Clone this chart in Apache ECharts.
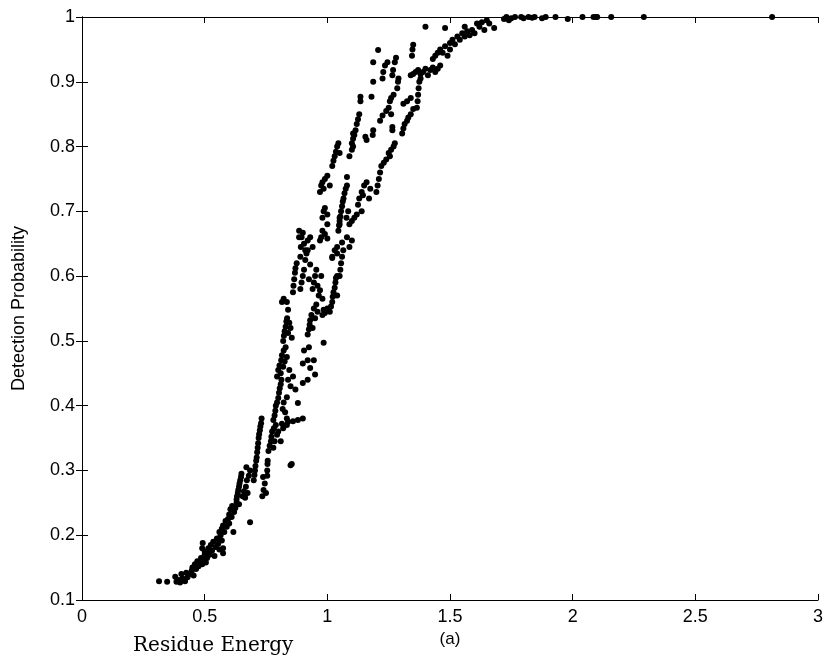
<!DOCTYPE html>
<html>
<head>
<meta charset="utf-8">
<title>Detection Probability vs Residue Energy</title>
<script src="https://cdn.jsdelivr.net/npm/echarts@6/dist/echarts.min.js"></script>
<style>
  html, body { margin: 0; padding: 0; background: #fff; }
  #chart { width: 827px; height: 668px; }
</style>
</head>
<body>
<div id="chart"></div>
<script>
// axis ticks
var xTicks = [0, 0.5, 1, 1.5, 2, 2.5, 3];
var yTicks = [0.1, 0.2, 0.3, 0.4, 0.5, 0.6, 0.7, 0.8, 0.9, 1];

// [residue energy, detection probability], band by band
var tailPts = [
  [0.314,0.129],[0.347,0.128],[0.38,0.136],[0.385,0.128],[0.395,0.131],[0.40,0.127],[0.405,0.14],
  [0.41,0.133],[0.42,0.129],[0.425,0.142],[0.43,0.135],[0.44,0.14],[0.447,0.145],[0.45,0.15],
  [0.455,0.138],[0.46,0.155],[0.465,0.148],[0.47,0.16],[0.475,0.152],[0.48,0.158],[0.485,0.165],
  [0.49,0.155],[0.495,0.162],[0.50,0.17],[0.505,0.158],[0.51,0.165],
  [0.49,0.18],[0.492,0.188],[0.50,0.175],[0.51,0.172],[0.515,0.18],[0.52,0.17],[0.525,0.185],
  [0.53,0.176],[0.535,0.19],[0.54,0.168],[0.545,0.182],[0.55,0.195],[0.555,0.187],[0.56,0.178],
  [0.575,0.18],[0.575,0.172],[0.565,0.2],[0.57,0.192]
];
var risePts = [
  [0.56,0.205],[0.57,0.21],[0.575,0.215],[0.58,0.205],[0.585,0.222],[0.59,0.213],[0.595,0.225],
  [0.60,0.218],[0.60,0.232],[0.605,0.24],[0.61,0.228],[0.612,0.245],[0.617,0.205],[0.62,0.236],
  [0.625,0.242],[0.63,0.25],[0.685,0.22],[0.64,0.248],
  [0.63,0.255],[0.632,0.26],[0.635,0.265],[0.637,0.27],[0.64,0.275],[0.642,0.28],[0.645,0.285],
  [0.648,0.29],[0.65,0.295],[0.655,0.26],[0.66,0.268],[0.665,0.258],[0.668,0.275],[0.672,0.285],
  [0.675,0.265],[0.68,0.292],[0.685,0.3],[0.67,0.305],
  [0.70,0.285],[0.703,0.293],[0.705,0.30],[0.707,0.307],[0.71,0.315],[0.712,0.32],[0.714,0.328],
  [0.716,0.335],[0.718,0.342],[0.72,0.35],[0.722,0.356],[0.725,0.362],[0.727,0.368],[0.73,0.373],
  [0.732,0.38],[0.735,0.26],[0.74,0.27],[0.745,0.28],[0.738,0.29],[0.75,0.265],[0.755,0.292],
  [0.755,0.30],[0.756,0.31],[0.757,0.315],
  [0.76,0.33],[0.765,0.338],[0.77,0.345],[0.772,0.352],[0.775,0.36],[0.78,0.335],[0.782,0.365],
  [0.785,0.345],[0.79,0.37],[0.795,0.355],[0.80,0.36],[0.81,0.345],[0.815,0.372],[0.82,0.365],
  [0.835,0.37],[0.85,0.308],[0.855,0.31],[0.835,0.38],[0.84,0.375],[0.86,0.376],[0.88,0.378],[0.9,0.38],
  [0.78,0.378],[0.785,0.385],[0.788,0.392],[0.79,0.40],[0.795,0.405],[0.80,0.412],[0.803,0.42],
  [0.806,0.427],[0.81,0.433],[0.813,0.44],[0.818,0.395],[0.822,0.405],[0.828,0.39],[0.835,0.413],[0.88,0.404]
];
var midPts = [
  [0.795,0.445],[0.80,0.455],[0.805,0.462],[0.81,0.45],[0.812,0.47],[0.815,0.478],[0.82,0.46],
  [0.822,0.485],[0.826,0.468],[0.83,0.49],[0.835,0.475],[0.84,0.44],[0.845,0.455],[0.85,0.43],
  [0.86,0.445],[0.87,0.425],
  [0.90,0.435],[0.90,0.465],[0.905,0.485],[0.92,0.47],[0.92,0.44],[0.925,0.49],[0.945,0.47],
  [0.95,0.448],[0.93,0.458],[0.985,0.497],
  [0.82,0.50],[0.823,0.508],[0.826,0.515],[0.83,0.522],[0.833,0.53],[0.836,0.535],[0.84,0.512],
  [0.845,0.528],[0.85,0.52],[0.855,0.505],[0.815,0.56],[0.822,0.565],[0.835,0.56],[0.84,0.548],
  [0.92,0.51],[0.925,0.518],[0.928,0.525],[0.93,0.532],[0.935,0.54],[0.94,0.52],[0.945,0.55],
  [0.95,0.535],[0.955,0.556],[0.96,0.545],[0.98,0.54],[0.985,0.548],[0.99,0.543],[1.0,0.55],
  [1.01,0.545],[1.015,0.553],[1.02,0.56],[1.022,0.568],[1.025,0.575],[1.03,0.582],[1.033,0.59],
  [1.035,0.597],[1.04,0.57],[1.04,0.6],
  [0.86,0.575],[0.862,0.585],[0.865,0.595],[0.868,0.605],[0.87,0.612],[0.875,0.62],[0.89,0.58],
  [0.895,0.59],[0.90,0.60],[0.905,0.61],[0.91,0.625],[0.915,0.635],[0.92,0.64],[0.925,0.595],
  [0.93,0.618],[0.94,0.58],[0.945,0.59],[0.95,0.60],[0.955,0.61],[0.96,0.585],[0.965,0.57],
  [0.97,0.578],[0.975,0.6],[0.98,0.565],
  [1.02,0.63],[1.03,0.64],[1.04,0.635],[1.05,0.60],[1.053,0.61],[1.056,0.62],[1.06,0.63],[1.065,0.64],
  [0.885,0.66],[0.885,0.67],[0.89,0.63],[0.892,0.645],[0.895,0.66],[0.90,0.667],[0.905,0.65],
  [0.91,0.64],[0.92,0.655],[0.93,0.66],[0.94,0.645],
  [0.97,0.655],[0.975,0.66],[0.98,0.67],[0.99,0.665],[1.0,0.658],[1.0,0.68],[1.05,0.68],[1.05,0.69]
];
var upperPts = [
  [0.98,0.69],[0.985,0.70],[0.99,0.705],[1.0,0.695],
  [0.97,0.73],[0.975,0.74],[0.98,0.745],[0.985,0.735],[0.99,0.75],[1.0,0.755],[1.01,0.74],
  [1.045,0.67],[1.048,0.678],[1.05,0.685],[1.053,0.692],[1.056,0.70],[1.06,0.708],[1.063,0.715],
  [1.066,0.72],[1.07,0.728],[1.075,0.735],[1.08,0.74],[1.085,0.70],[1.078,0.69],
  [1.02,0.628],[1.04,0.645],[1.06,0.652],[1.08,0.66],[1.1,0.655],[1.09,0.645],
  [1.09,0.68],[1.1,0.685],[1.11,0.69],[1.12,0.695],[1.14,0.70],
  [1.125,0.71],[1.13,0.72],[1.14,0.73],[1.145,0.725],[1.15,0.74],[1.16,0.745],[1.17,0.72],[1.175,0.735],
  [1.02,0.77],[1.025,0.778],[1.03,0.785],[1.035,0.792],[1.04,0.80],[1.045,0.805],[1.05,0.79],
  [1.08,0.753],[1.09,0.785],[1.1,0.795],[1.105,0.80],
  [1.1,0.805],[1.105,0.812],[1.11,0.818],[1.115,0.825],[1.12,0.835],[1.125,0.842],[1.13,0.85],
  [1.135,0.87],[1.135,0.877],[1.105,0.82],[1.155,0.815],[1.16,0.81],[1.185,0.818],[1.187,0.825],
  [1.2,0.73],[1.205,0.74],[1.21,0.75],[1.215,0.76],[1.22,0.77],[1.23,0.775],[1.24,0.78],
  [1.25,0.79],[1.255,0.785],[1.26,0.795],[1.27,0.80],[1.275,0.805],
  [1.215,0.84],[1.225,0.848],[1.24,0.855],[1.25,0.86],[1.26,0.85],[1.265,0.83],[1.265,0.825],
  [1.305,0.82],[1.31,0.828],[1.315,0.835],[1.325,0.84],[1.33,0.845],[1.34,0.85],[1.35,0.858]
];
var nearTopPts = [
  [1.18,0.877],[1.255,0.87],[1.26,0.875],[1.27,0.88],[1.31,0.866],[1.325,0.87],[1.34,0.875],
  [1.365,0.86],[1.368,0.87],[1.37,0.88],[1.372,0.89],[1.375,0.9],[1.38,0.905],
  [1.34,0.91],[1.35,0.912],[1.36,0.915],[1.37,0.918],[1.38,0.912],[1.39,0.915],[1.40,0.92],
  [1.41,0.91],[1.42,0.918],[1.43,0.922],[1.44,0.915],[1.45,0.92],[1.46,0.925],
  [1.187,0.9],[1.225,0.905],[1.228,0.915],[1.265,0.91],[1.268,0.918],[1.285,0.89],[1.288,0.9],[1.29,0.905],
  [1.187,0.93],[1.235,0.925],[1.245,0.93],[1.275,0.93],[1.28,0.937],[1.207,0.949],
  [1.345,0.94],[1.347,0.95],[1.35,0.957],
  [1.43,0.935],[1.44,0.94],[1.45,0.945],[1.46,0.95],[1.47,0.945],[1.48,0.955],[1.49,0.94],[1.5,0.95],
  [1.40,0.985],[1.48,0.983],[1.50,0.96],[1.51,0.965],[1.52,0.958],[1.53,0.97],[1.54,0.965],
  [1.55,0.975],[1.56,0.97],[1.56,0.985],[1.57,0.978],[1.58,0.972],[1.59,0.98],[1.60,0.975],
  [1.61,0.99],[1.62,0.985],[1.63,0.992],[1.64,0.98],[1.65,0.995],[1.66,0.99],[1.68,0.983]
];
var topPts = [
  [1.72,0.997],[1.73,1.0],[1.74,0.995],[1.75,0.998],[1.765,1.0],[1.79,1.0],[1.80,0.998],
  [1.82,1.0],[1.835,0.999],[1.845,1.0],[1.875,0.998],[1.89,1.0],[1.93,1.0],[1.98,0.997],
  [2.04,1.0],[2.085,1.0],[2.095,1.0],[2.10,1.0],[2.157,1.0],[2.29,1.0],[2.813,1.0]
];

var allPts = tailPts.concat(risePts, midPts, upperPts, nearTopPts, topPts);

var tickFont = { fontFamily: 'Liberation Sans, Arial, sans-serif', fontSize: 18, color: '#000' };
var axisLine = { show: true, lineStyle: { color: '#000', width: 1 } };
var inTick = { show: true, inside: true, length: 6, lineStyle: { color: '#000' } };

function fmt(v) { return String(parseFloat(v.toFixed(1))); }

var chart = echarts.init(document.getElementById('chart'), null, { renderer: 'canvas' });

chart.setOption({
  animation: false,
  backgroundColor: '#fff',
  grid: { left: 82, right: 9, top: 17, bottom: 68 },
  xAxis: [{
    type: 'value', position: 'bottom', min: xTicks[0], max: xTicks[xTicks.length - 1], interval: 0.5,
    axisLine: axisLine, axisTick: inTick,
    axisLabel: Object.assign({ margin: 8, formatter: fmt }, tickFont),
    splitLine: { show: false },
    name: '(a)', nameLocation: 'middle', nameGap: 27,
    nameTextStyle: { fontFamily: 'Liberation Sans, Arial, sans-serif', fontSize: 17, color: '#000' }
  }, {
    type: 'value', position: 'top', min: xTicks[0], max: xTicks[xTicks.length - 1], interval: 0.5,
    axisLine: axisLine, axisTick: inTick,
    axisLabel: { show: false }, splitLine: { show: false }
  }],
  yAxis: [{
    type: 'value', position: 'left', min: yTicks[0], max: yTicks[yTicks.length - 1], interval: 0.1,
    axisLine: axisLine, axisTick: inTick,
    axisLabel: Object.assign({ margin: 7, formatter: fmt }, tickFont),
    splitLine: { show: false },
    name: 'Detection Probability', nameLocation: 'middle', nameGap: 54, nameRotate: 90,
    nameTextStyle: { fontFamily: 'Liberation Sans, Arial, sans-serif', fontSize: 18, color: '#000' }
  }, {
    type: 'value', position: 'right', min: yTicks[0], max: yTicks[yTicks.length - 1], interval: 0.1,
    axisLine: axisLine, axisTick: inTick,
    axisLabel: { show: false }, splitLine: { show: false }
  }],
  graphic: [{
    type: 'text', left: 133, top: 636,
    style: { text: 'Residue Energy', fontFamily: 'DejaVu Serif, Liberation Serif, serif', fontSize: 20, fill: '#000' }
  }],
  series: [{
    type: 'scatter', xAxisIndex: 0, yAxisIndex: 0,
    symbol: 'circle', symbolSize: 6,
    itemStyle: { color: '#000', opacity: 1 },
    data: allPts
  }]
});
</script>
</body>
</html>
